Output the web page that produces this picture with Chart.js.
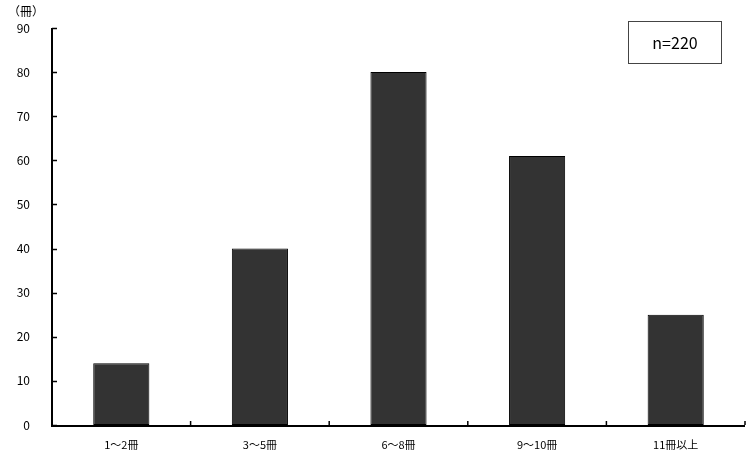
<!DOCTYPE html>
<html><head><meta charset="utf-8">
<script src="https://cdn.jsdelivr.net/npm/chart.js@4"></script>
<style>html,body{margin:0;padding:0;background:#fff}</style>
</head><body>
<canvas id="c" width="755" height="461"></canvas>
<script>
const categories = ["1～2冊", "3～5冊", "6～8冊", "9～10冊", "11冊以上"];
const values = [14, 40, 80, 61, 25];
const yTicks = [0, 10, 20, 30, 40, 50, 60, 70, 80, 90];
const unitLabel = "（冊）";
const nLabel = "n=220";
const FONT = "'Noto Sans CJK JP', 'DejaVu Sans', sans-serif";

const decor = {
  id: 'decor',
  afterDraw(chart) {
    const ctx = chart.ctx, x = chart.scales.x, y = chart.scales.y;
    const a = chart.chartArea;
    ctx.save();
    ctx.strokeStyle = '#000'; ctx.lineWidth = 1.5;
    yTicks.forEach(v => {
      const py = Math.round(y.getPixelForValue(v)) + 0.5;
      ctx.beginPath(); ctx.moveTo(a.left, py); ctx.lineTo(a.left + 5, py); ctx.stroke();
    });
    for (let k = 0; k <= categories.length; k++) {
      const px = a.left + (a.right - a.left) * k / categories.length;
      ctx.beginPath(); ctx.moveTo(px, a.bottom); ctx.lineTo(px, a.bottom - 4); ctx.stroke();
    }
    ctx.lineWidth = 2;
    ctx.beginPath(); ctx.moveTo(a.left, a.top); ctx.lineTo(a.left, a.bottom + 1); ctx.lineTo(a.right, a.bottom + 1); ctx.stroke();
    ctx.fillStyle = '#000';
    ctx.font = "12px " + FONT;
    ctx.textAlign = 'left'; ctx.textBaseline = 'middle';
    ctx.fillText(unitLabel, 8, 11);
    ctx.lineWidth = 1; ctx.strokeStyle = '#444';
    ctx.strokeRect(628.5, 21.5, 93, 42);
    ctx.font = "16px " + FONT;
    ctx.textAlign = 'center';
    ctx.fillText(nLabel, 675, 43);
    ctx.restore();
  }
};

new Chart(document.getElementById('c'), {
  type: 'bar',
  data: {
    labels: categories,
    datasets: [{
      data: values,
      backgroundColor: '#333333',
      borderColor: '#000000',
      borderWidth: 1,
      borderSkipped: false,
      categoryPercentage: 1.0,
      barPercentage: 0.405
    }]
  },
  options: {
    responsive: false,
    animation: false,
    layout: { padding: { top: 28, right: 10, left: 0, bottom: 0 } },
    plugins: { legend: { display: false }, tooltip: { enabled: false } },
    scales: {
      x: {
        offset: true,
        grid: { display: false },
        border: { display: false },
        ticks: { color: '#000', font: { size: 11, family: FONT }, padding: 5, maxRotation: 0 },
        afterFit(s) { s.height = 36; }
      },
      y: {
        min: 0, max: 90,
        grid: { display: false },
        border: { display: false },
        ticks: { stepSize: 10, color: '#000', font: { size: 12, family: FONT }, padding: 14 },
        afterFit(s) { s.width = 52; }
      }
    }
  },
  plugins: [decor]
});
</script>
</body></html>
